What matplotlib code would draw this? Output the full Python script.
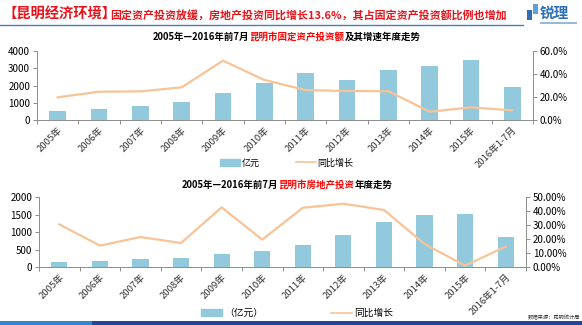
import matplotlib
matplotlib.use("Agg")
import matplotlib.pyplot as plt
from matplotlib.patches import Rectangle, Patch
from matplotlib.lines import Line2D
from matplotlib.ticker import FuncFormatter, MultipleLocator
import numpy as np

plt.rcParams['font.family'] = ['Noto Sans CJK SC', 'DejaVu Sans']

# data
years = ['2005年', '2006年', '2007年', '2008年', '2009年', '2010年',
         '2011年', '2012年', '2013年', '2014年', '2015年', '2016年1-7月']
fixed_inv = [504, 638, 794, 1043, 1584, 2164, 2705, 2319, 2918, 3150, 3500, 1932]
fixed_growth = [19.7, 24.6, 24.9, 28.4, 51.6, 34.8, 26.0, 25.2, 25.0, 7.2, 11.0, 8.4]
estate_inv = [143, 182, 239, 268, 382, 459, 628, 927, 1300, 1501, 1512, 852]
estate_growth = [30.6, 15.3, 21.5, 17.2, 42.8, 19.6, 42.5, 45.4, 40.9, 16.5, 1.0, 14.6]

BAR = '#93c9dc'
LINE = '#f8c396'
SPINE = '#8c8c8c'
W, H = 582, 325

fig = plt.figure(figsize=(W / 100, H / 100), dpi=100)


def px(x, y):
    return x / W, 1 - y / H


def colored_text(x, y, parts, size):
    fx, fy = px(x, y)
    t = fig.text(fx, fy, parts[0][0], color=parts[0][1], fontsize=size,
                 fontweight='bold', va='center', ha='left')
    for s, c in parts[1:]:
        t = fig.add_artist(matplotlib.text.Annotation(
            s, xy=(1, 0.5), xycoords=t, va='center', ha='left', color=c,
            fontsize=size, fontweight='bold'))
    return t


def make_chart(rect, bars, growth, ymax, ystep, pmax, pstep, pfmt):
    ax = fig.add_axes(rect)
    x = np.arange(len(years))
    ax.bar(x, bars, width=0.4, color=BAR, zorder=2)
    ax.set_xlim(-0.5, len(years) - 0.5)
    ax.set_ylim(0, ymax)
    ax.yaxis.set_major_locator(MultipleLocator(ystep))
    ax.set_xticks(x)
    ax.set_xticklabels(years, rotation=45, ha='right', rotation_mode='anchor',
                       fontsize=6.8, color='#333333')
    ax.set_xticks(np.arange(-0.5, len(years), 1), minor=True)
    ax.tick_params(axis='x', which='major', length=0, pad=4)
    ax.tick_params(axis='x', which='minor', length=3, color=SPINE, width=0.7)
    ax.tick_params(axis='y', labelsize=7, length=3, color=SPINE, width=0.7, pad=2)
    for s in ['top', 'right']:
        ax.spines[s].set_visible(False)
    for s in ['left', 'bottom']:
        ax.spines[s].set_color(SPINE)
        ax.spines[s].set_linewidth(0.7)

    ax2 = ax.twinx()
    ax2.plot(x, growth, color=LINE, lw=1.6, zorder=3)
    ax2.set_ylim(0, pmax)
    ax2.yaxis.set_major_locator(MultipleLocator(pstep))
    ax2.yaxis.set_major_formatter(FuncFormatter(lambda v, p: pfmt.format(v)))
    ax2.tick_params(axis='y', labelsize=7, length=3, color=SPINE, width=0.7, pad=2)
    for s in ['top', 'left', 'bottom']:
        ax2.spines[s].set_visible(False)
    ax2.spines['right'].set_color(SPINE)
    ax2.spines['right'].set_linewidth(0.7)
    return ax, ax2


# header
fig.text(*px(3, 15), '【昆明经济环境】', color='#e8141b', fontsize=10.3,
         fontweight='bold', va='center', ha='left')
fig.text(*px(110, 16), '固定资产投资放缓，房地产投资同比增长13.6%，其占固定资产投资额比例也增加',
         color='#e8141b', fontsize=7.9, fontweight='bold', va='center', ha='left')
fig.add_artist(Line2D([0, 523 / W], [1 - 24.5 / H] * 2, color='#4a7cc0', lw=1.0))
fig.text(*px(540, 13), '锐理', color='#2e6fb8', fontsize=10.5, fontweight='bold',
         va='center', ha='left')
fig.add_artist(Rectangle(px(527, 20), 5 / W, 10 / H, color='#2e6fb8', lw=0))
fig.add_artist(Rectangle(px(533, 14), 5 / W, 10 / H, color='#5fa0d8', lw=0))
fig.add_artist(Rectangle(px(540, 24), 37 / W, 2 / H, color='#9bb8d8', lw=0))

# top chart
make_chart([37 / W, 1 - 120 / H, 496 / W, 69 / H], fixed_inv, fixed_growth,
           4000, 1000, 60, 20, '{:.1f}%')
colored_text(153, 37, [('2005年—2016年前7月', 'black'), ('昆明市固定资产投资额', '#ff0000'),
                       ('及其增速年度走势', 'black')], 6.8)
fig.legend(handles=[Patch(color=BAR, label='亿元'),
                    Line2D([], [], color=LINE, lw=1.2, label='同比增长')],
           loc='center', bbox_to_anchor=px(287, 163), ncol=2, frameon=False,
           fontsize=6.5, handlelength=2.2, handleheight=0.7, columnspacing=4,
           handletextpad=0.2)

# bottom chart
make_chart([39 / W, 1 - 267 / H, 487 / W, 69.7 / H], estate_inv, estate_growth,
           2000, 500, 50, 10, '{:.2f}%')
colored_text(182, 185, [('2005年—2016年前7月', 'black'), ('昆明市房地产投资', '#ff0000'),
                        ('年度走势', 'black')], 6.8)
fig.legend(handles=[Patch(color=BAR, label='（亿元）'),
                    Line2D([], [], color=LINE, lw=1.2, label='同比增长')],
           loc='center', bbox_to_anchor=px(297, 313), ncol=2, frameon=False,
           fontsize=7, handlelength=2.2, handleheight=0.7, columnspacing=7,
           handletextpad=0.2)
fig.text(*px(580, 318), '数据来源：昆明统计局', fontsize=3.8, ha='right', va='center',
         color='#333333')

# footer band
fig.add_artist(Rectangle((0, 0), 92 / W, 4 / H, color='#2f86d6', lw=0))
fig.add_artist(Rectangle((92 / W, 0), 1 - 92 / W, 4 / H, color='#23449a', lw=0))

fig.savefig('out.png', dpi=100)
